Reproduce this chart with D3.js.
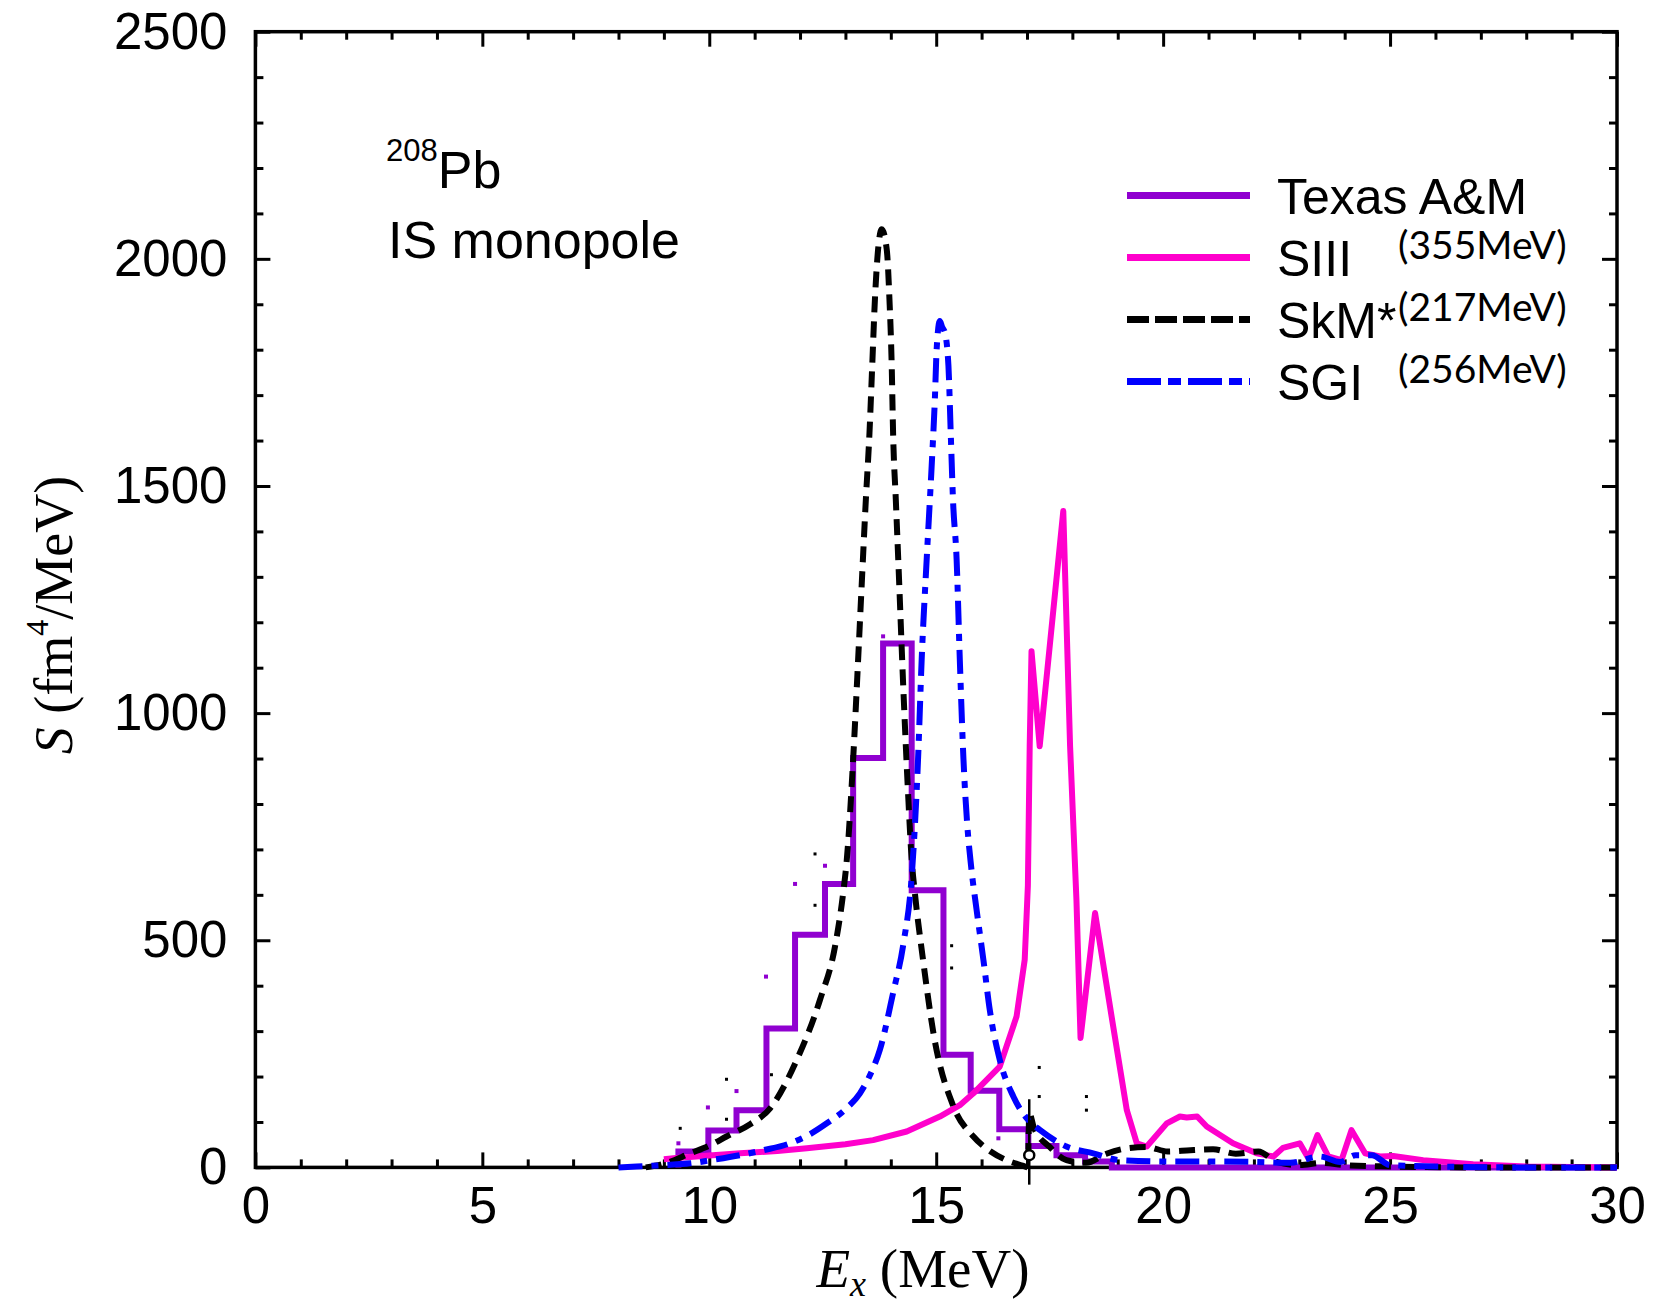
<!DOCTYPE html>
<html>
<head>
<meta charset="utf-8">
<script src="https://cdnjs.cloudflare.com/ajax/libs/d3/7.8.5/d3.min.js"></script>
<style>
body { margin: 0; background: #fff; }
</style>
</head>
<body>
<svg id="chart" width="1655" height="1307"></svg>
<script>
var X_TICKS = [0, 5, 10, 15, 20, 25, 30];
var Y_TICKS = [0, 500, 1000, 1500, 2000, 2500];

// Texas A&M data, drawn as a histogram (bin edges + heights)
var TAMU_EDGES = [9.32, 9.98, 10.60, 11.26, 11.89, 12.55, 13.17, 13.83, 14.46, 15.16, 15.76, 16.39, 17.03, 17.65, 18.28, 18.87];
var TAMU_VALUES = [35, 81, 126, 306, 512, 624, 901, 1153, 610, 248, 169, 84, 47, 27, 13];

// SIII (355 MeV)
var SIII_E = [9.0, 9.21, 10.0, 10.68, 11.5, 12.15, 13.0, 13.61, 14.35, 15.08, 15.52, 15.82, 16.40, 16.77, 16.95, 17.02, 17.06, 17.10, 17.28,
    17.80, 17.95, 18.09, 18.18, 18.50, 18.90, 19.20, 19.42, 19.64, 20.08, 20.37, 20.52, 20.75, 20.96, 21.54, 22.06, 22.43, 22.64, 23.01,
    23.20, 23.40, 23.64, 23.93, 24.15, 24.45, 24.78, 25.07, 25.73, 26.83, 28.0, 30.0];
var SIII_S = [18, 20, 26, 31, 36, 42, 51, 60, 79, 112, 137, 163, 222, 332, 457, 620, 927, 1136, 927,
    1445, 927, 589, 285, 560, 310, 126, 53, 46, 97, 112, 110, 112, 90, 53, 31, 24, 43, 53,
    20, 71, 24, 16, 82, 31, 24, 25, 16, 7, 2, 0];

// SkM* (217 MeV)
var SKM_E = [8.6, 9.0, 9.58, 10.0, 10.38, 10.9, 11.34, 11.93, 12.44, 12.77, 12.95, 13.03, 13.17, 13.28, 13.35, 13.45, 13.53, 13.59, 13.65,
    13.72, 13.80, 13.91, 13.97, 14.02, 14.05, 14.11, 14.17, 14.28, 14.38, 14.46, 14.53, 14.71, 14.94, 15.38, 15.82, 16.2, 16.55, 16.9,
    17.02, 17.05, 17.15, 17.5, 17.87, 18.3, 18.75, 19.2, 19.65, 20.1, 20.6, 21.1, 21.6, 22.1, 22.5, 23.0, 23.5, 24.0, 25.0, 27.0, 30.0];
var SKM_S = [0, 8, 31, 48, 68, 95, 130, 237, 369, 486, 604, 677, 898, 1118, 1265, 1470, 1617, 1764, 1911,
    2021, 2065, 2021, 1911, 1764, 1617, 1470, 1323, 1044, 824, 677, 604, 457, 295, 134, 68, 35, 16, 4,
    0, 120, 88, 45, 16, 10, 30, 42, 45, 35, 38, 40, 30, 35, 12, 5, 10, 5, 2, 0, 0];

// SGI (256 MeV)
var SGI_E = [8.0, 8.4, 9.0, 9.58, 10.1, 10.68, 11.2, 11.78, 12.2, 12.59, 13.0, 13.32, 13.55, 13.76, 14.05, 14.28, 14.46, 14.60, 14.68,
    14.79, 14.90, 14.97, 15.01, 15.08, 15.13, 15.19, 15.27, 15.32, 15.37, 15.45, 15.52, 15.60, 15.68, 15.77, 15.89, 16.04, 16.18, 16.40,
    16.70, 17.03, 17.29, 17.87, 18.46, 19.05, 20.2, 21.0, 22.0, 22.8, 23.45, 23.9, 24.24, 24.6, 25.0, 26.0, 28.0, 30.0];
var SGI_S = [0, 2, 5, 9, 17, 27, 38, 53, 72, 97, 128, 163, 205, 259, 384, 494, 640, 898, 1118,
    1338, 1544, 1690, 1801, 1863, 1850, 1838, 1764, 1617, 1470, 1338, 1118, 900, 760, 662, 567, 457, 347, 237,
    156, 104, 82, 46, 31, 16, 13, 13, 12, 10, 24, 12, 27, 27, 5, 2, 0, 0];

// stray dots left over in the figure
var DOTS_PURPLE_E = [9.32, 9.97, 10.60, 11.25, 11.89, 12.55, 13.83, 16.37];
var DOTS_PURPLE_S = [53, 132, 168, 420, 624, 664, 1169, 64];
var DOTS_BLACK_E = [9.36, 10.38, 10.38, 11.37, 12.33, 12.33, 15.34, 15.34, 17.27, 17.27, 18.31, 18.31];
var DOTS_BLACK_S = [86, 106, 194, 204, 577, 690, 439, 488, 156, 220, 126, 156];

// black marker at 17 MeV
var MARK_E = 17.05;
var MARK_S = [-38, 150];
var MARK_RING_S = 27;

var LEGEND_NAMES = ["Texas A&M", "SIII", "SkM*", "SGI"];
var LEGEND_NOTES = ["", "(355MeV)", "(217MeV)", "(256MeV)"];
var LEGEND_COLORS = ["#9000d0", "#ff00cc", "#000000", "#0000ff"];

var PLOT = {left: 255.4, right: 1617, top: 31.7, bottom: 1167.4};
var X_SCALE = d3.scaleLinear().domain([0, 30]).range([PLOT.left, PLOT.right]);
var Y_SCALE = d3.scaleLinear().domain([0, 2500]).range([PLOT.bottom, PLOT.top]);
var SANS = "'Liberation Sans', Arial, sans-serif";
var SERIF = "'Liberation Serif', 'Times New Roman', serif";

var svg = d3.select("#chart");
svg.append("rect").attr("width", 1655).attr("height", 1307).attr("fill", "#fff");

function styleAxis(g) {
    g.select(".domain").remove();
    g.selectAll(".tick line").attr("stroke", "#000").attr("stroke-width", 3);
    g.selectAll(".tick text").attr("fill", "#000");
    g.attr("font-family", SANS).attr("font-size", 51);
}

function drawAxes() {
    var minorX = d3.range(0, 31).filter(function (d) { return d % 5 != 0; });
    var minorY = d3.range(0, 2501, 100).filter(function (d) { return d % 500 != 0; });

    // minor ticks on all four sides
    svg.append("g").attr("transform", "translate(0," + PLOT.bottom + ")")
        .call(d3.axisBottom(X_SCALE).tickValues(minorX).tickSize(-8).tickFormat("")).call(styleAxis);
    svg.append("g").attr("transform", "translate(0," + PLOT.top + ")")
        .call(d3.axisTop(X_SCALE).tickValues(minorX).tickSize(-8).tickFormat("")).call(styleAxis);
    svg.append("g").attr("transform", "translate(" + PLOT.left + ",0)")
        .call(d3.axisLeft(Y_SCALE).tickValues(minorY).tickSize(-8).tickFormat("")).call(styleAxis);
    svg.append("g").attr("transform", "translate(" + PLOT.right + ",0)")
        .call(d3.axisRight(Y_SCALE).tickValues(minorY).tickSize(-8).tickFormat("")).call(styleAxis);

    // major ticks + labels
    svg.append("g").attr("transform", "translate(0," + PLOT.bottom + ")")
        .call(d3.axisBottom(X_SCALE).tickValues(X_TICKS).tickSize(-15).tickPadding(19).tickFormat(d3.format("d")))
        .call(styleAxis);
    svg.append("g").attr("transform", "translate(0," + PLOT.top + ")")
        .call(d3.axisTop(X_SCALE).tickValues(X_TICKS).tickSize(-15).tickFormat("")).call(styleAxis);
    svg.append("g").attr("transform", "translate(" + PLOT.left + ",0)")
        .call(d3.axisLeft(Y_SCALE).tickValues(Y_TICKS).tickSize(-15).tickPadding(28).tickFormat(d3.format("d")))
        .call(styleAxis);
    svg.append("g").attr("transform", "translate(" + PLOT.right + ",0)")
        .call(d3.axisRight(Y_SCALE).tickValues(Y_TICKS).tickSize(-15).tickFormat("")).call(styleAxis);

    svg.append("rect")
        .attr("x", PLOT.left).attr("y", PLOT.top)
        .attr("width", PLOT.right - PLOT.left).attr("height", PLOT.bottom - PLOT.top)
        .attr("fill", "none").attr("stroke", "#000").attr("stroke-width", 3.5);
}

function zip(es, ss) {
    var pts = [];
    for (var i = 0; i < es.length; i++) pts.push([es[i], ss[i]]);
    return pts;
}

function drawHistogram(edges, values, color) {
    var pts = [[edges[0], 0]];
    for (var i = 0; i < values.length; i++) pts.push([edges[i], values[i]]);
    pts.push([edges[edges.length - 1], 0]);
    pts.push([30, 0]);
    var line = d3.line()
        .x(function (d) { return X_SCALE(d[0]); })
        .y(function (d) { return Y_SCALE(d[1]); })
        .curve(d3.curveStepAfter);
    svg.append("path").attr("d", line(pts))
        .attr("fill", "none").attr("stroke", color).attr("stroke-width", 6)
        .attr("stroke-linejoin", "miter");
}

function drawCurve(es, ss, color, dash, curve) {
    var line = d3.line()
        .x(function (d) { return X_SCALE(d[0]); })
        .y(function (d) { return Y_SCALE(d[1]); })
        .curve(curve);
    var p = svg.append("path").attr("d", line(zip(es, ss)))
        .attr("fill", "none").attr("stroke", color).attr("stroke-width", 6)
        .attr("stroke-linejoin", "round");
    if (dash) p.attr("stroke-dasharray", dash);
}

function drawDots(es, ss, color, size) {
    svg.append("g").selectAll("rect").data(zip(es, ss)).enter().append("rect")
        .attr("x", function (d) { return X_SCALE(d[0]) - size / 2; })
        .attr("y", function (d) { return Y_SCALE(d[1]) - size / 2; })
        .attr("width", size).attr("height", size)
        .attr("fill", color);
}

function drawMarker() {
    svg.append("line")
        .attr("x1", X_SCALE(MARK_E)).attr("x2", X_SCALE(MARK_E))
        .attr("y1", Y_SCALE(MARK_S[0])).attr("y2", Y_SCALE(MARK_S[1]))
        .attr("stroke", "#000").attr("stroke-width", 2.5);
    svg.append("circle")
        .attr("cx", X_SCALE(MARK_E)).attr("cy", Y_SCALE(MARK_RING_S)).attr("r", 5)
        .attr("fill", "#fff").attr("stroke", "#000").attr("stroke-width", 2.5);
}

function drawLegend() {
    var dashes = [null, null, "22,6", "34,7,13,7"];
    for (var i = 0; i < LEGEND_NAMES.length; i++) {
        var y = 195.5 + i * 62;
        var l = svg.append("line")
            .attr("x1", 1127).attr("x2", 1250).attr("y1", y).attr("y2", y)
            .attr("stroke", LEGEND_COLORS[i]).attr("stroke-width", 7);
        if (dashes[i]) l.attr("stroke-dasharray", dashes[i]);
        svg.append("text").attr("x", 1277).attr("y", y + 18)
            .attr("font-family", SANS).attr("font-size", 50).attr("fill", "#000")
            .text(LEGEND_NAMES[i]);
        if (LEGEND_NOTES[i]) {
            svg.append("text").attr("x", 1398).attr("y", y + 1)
                .attr("font-family", "Lato, 'Open Sans', sans-serif").attr("font-size", 39).attr("fill", "#000")
                .text(LEGEND_NOTES[i]);
        }
    }
}

function drawLabels() {
    // nucleus + mode
    var t = svg.append("text").attr("x", 386).attr("y", 188)
        .attr("font-family", SANS).attr("font-size", 52).attr("fill", "#000");
    t.append("tspan").attr("font-size", 31).attr("dy", -27).text("208");
    t.append("tspan").attr("dy", 27).text("Pb");
    svg.append("text").attr("x", 388).attr("y", 258)
        .attr("font-family", SANS).attr("font-size", 52).attr("fill", "#000")
        .text("IS monopole");

    // x title
    var xt = svg.append("text").attr("x", 923).attr("y", 1287).attr("text-anchor", "middle")
        .attr("font-family", SERIF).attr("font-size", 55).attr("fill", "#000");
    xt.append("tspan").attr("font-style", "italic").text("E");
    xt.append("tspan").attr("font-style", "italic").attr("font-size", 36).attr("dy", 9).text("x");
    xt.append("tspan").attr("dy", -9).text(" (MeV)");

    // y title
    var yt = svg.append("text").attr("transform", "translate(72,615) rotate(-90)").attr("text-anchor", "middle")
        .attr("font-family", SERIF).attr("font-size", 54).attr("fill", "#000");
    yt.append("tspan").attr("font-style", "italic").text("S");
    yt.append("tspan").text(" (fm");
    yt.append("tspan").attr("font-size", 32).attr("dy", -24).text("4");
    yt.append("tspan").attr("dy", 24).text("/MeV)");
}

drawAxes();
drawHistogram(TAMU_EDGES, TAMU_VALUES, LEGEND_COLORS[0]);
drawCurve(SIII_E, SIII_S, LEGEND_COLORS[1], null, d3.curveLinear);
drawCurve(SKM_E, SKM_S, LEGEND_COLORS[2], "16,9", d3.curveMonotoneX);
drawCurve(SGI_E, SGI_S, LEGEND_COLORS[3], "24,9,7,9", d3.curveMonotoneX);
drawDots(DOTS_PURPLE_E, DOTS_PURPLE_S, LEGEND_COLORS[0], 4);
drawDots(DOTS_BLACK_E, DOTS_BLACK_S, "#000", 3);
drawMarker();
drawLegend();
drawLabels();
</script>
</body>
</html>
